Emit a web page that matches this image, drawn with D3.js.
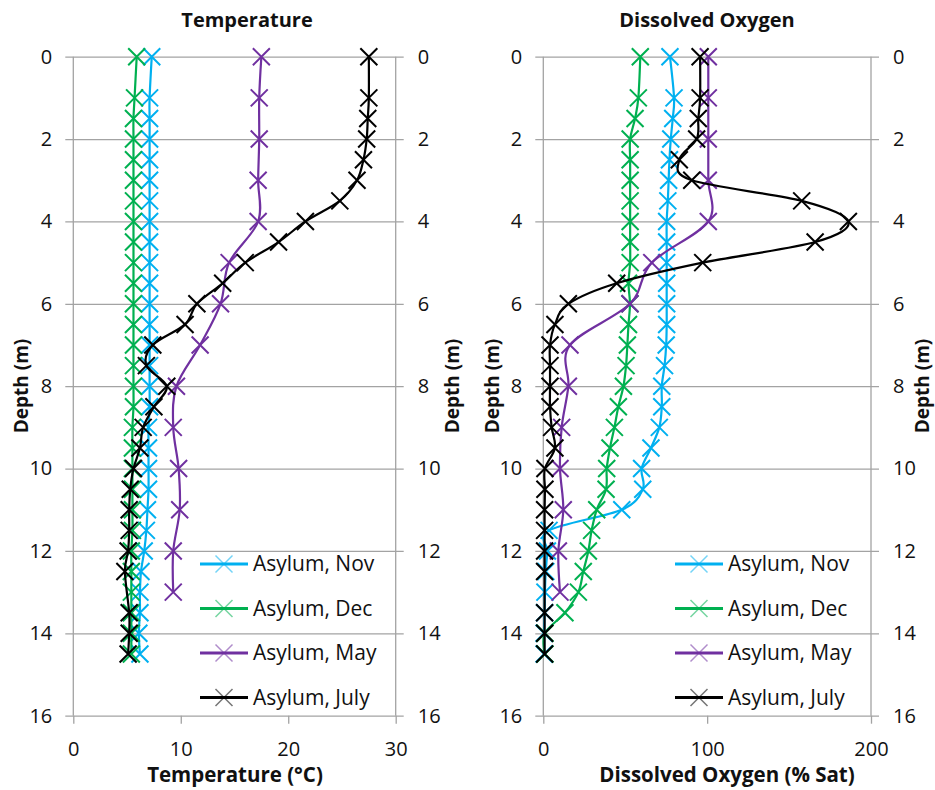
<!DOCTYPE html>
<html>
<head>
<meta charset="utf-8">
<script src="https://cdn.jsdelivr.net/npm/d3@7"></script>
<style>
  html, body { margin: 0; padding: 0; background: #fff; }
  svg { display: block; font-family: "Open Sans", "Noto Sans", sans-serif; }
</style>
</head>
<body>
<svg id="chart" width="935" height="790"></svg>
<script>
// Depth profiles, Asylum site
const seriesNames = ["Asylum, Nov", "Asylum, Dec", "Asylum, May", "Asylum, July"];
const seriesColors = ["#00b0f0", "#00b050", "#7030a0", "#000000"];

const depthsNov  = [0, 1, 1.5, 2, 2.5, 3, 3.5, 4, 4.5, 5, 5.5, 6, 6.5, 7, 7.5, 8, 8.5, 9, 9.5, 10, 10.5, 11, 11.5, 12, 12.5, 13, 13.5, 14, 14.5];
const depthsDec  = [0, 1, 1.5, 2, 2.5, 3, 3.5, 4, 4.5, 5, 5.5, 6, 6.5, 7, 7.5, 8, 8.5, 9, 9.5, 10, 10.5, 11, 11.5, 12, 12.5, 13, 13.5, 14, 14.5];
const depthsMay  = [0, 1, 2, 3, 4, 5, 6, 7, 8, 9, 10, 11, 12, 13];
const depthsJuly = [0, 1, 1.5, 2, 2.5, 3, 3.5, 4, 4.5, 5, 5.5, 6, 6.5, 7, 7.5, 8, 8.5, 9, 9.5, 10, 10.5, 11, 11.5, 12, 12.5, 13.5, 14, 14.5];

// Temperature (°C)
const tempNov  = [7.3, 7.1, 7.1, 7.1, 7.1, 7.1, 7.1, 7.1, 7.1, 7.1, 7.1, 7.1, 7.1, 7.1, 7.1, 7.1, 7.1, 7.0, 7.0, 7.0, 7.0, 6.9, 6.8, 6.6, 6.3, 6.2, 6.2, 6.1, 6.2];
const tempDec  = [5.9, 5.7, 5.6, 5.6, 5.6, 5.6, 5.6, 5.6, 5.6, 5.6, 5.6, 5.6, 5.6, 5.6, 5.6, 5.6, 5.6, 5.5, 5.5, 5.5, 5.5, 5.5, 5.5, 5.4, 5.4, 5.4, 5.4, 5.4, 5.4];
const tempMay  = [17.5, 17.3, 17.3, 17.2, 17.2, 14.5, 13.7, 11.8, 9.6, 9.3, 9.8, 9.9, 9.3, 9.3];
const tempJuly = [27.5, 27.5, 27.4, 27.3, 27.0, 26.4, 24.8, 21.6, 19.1, 16.0, 13.9, 11.5, 10.4, 7.4, 6.8, 8.7, 7.5, 6.5, 6.2, 5.6, 5.3, 5.2, 5.2, 5.1, 4.8, 5.2, 5.2, 5.1];

// Dissolved oxygen (% saturation)
const doNov  = [77.3, 79.8, 79.0, 77.8, 77.0, 76.5, 76.0, 75.3, 75.3, 75.3, 75.3, 75.3, 75.3, 75.0, 74.0, 72.3, 72.3, 70.8, 65.7, 60.0, 60.7, 47.9, 3.5, 2.5, 1.5, 1.0, 0.8, 0.5, 0.5];
const doDec  = [59.2, 58.0, 56.0, 53.0, 53.0, 53.0, 53.0, 53.0, 53.0, 53.0, 52.0, 52.9, 52.0, 51.3, 50.5, 48.9, 45.8, 43.4, 40.7, 38.7, 38.3, 32.6, 29.5, 27.5, 24.4, 21.4, 13.2, 1.0, 1.0];
const doMay  = [100.7, 100.7, 100.7, 100.7, 100.7, 66.2, 52.9, 16.3, 15.3, 11.2, 10.2, 12.2, 9.2, 10.2];
const doJuly = [95.7, 95.7, 94.6, 93.6, 83.0, 90.6, 157.7, 186.2, 165.9, 97.3, 44.8, 15.3, 7.1, 4.1, 4.1, 4.1, 4.1, 5.1, 7.1, 1.0, 1.0, 0.8, 0.8, 0.8, 0.8, 0.8, 0.8, 0.8];

const depthTicks = [0, 2, 4, 6, 8, 10, 12, 14, 16];
const tempTicks = [0, 10, 20, 30];
const doTicks = [0, 100, 200];

const depthSets = [depthsNov, depthsDec, depthsMay, depthsJuly];

function buildSeries(valueSets) {
  return valueSets.map((vals, i) => ({
    name: seriesNames[i],
    color: seriesColors[i],
    points: vals.map((v, j) => ({ v: v, d: depthSets[i][j] }))
  }));
}

const panels = [
  {
    title: "Temperature", titleX: 247,
    xLabel: "Temperature (\u00B0C)", xLabelX: 235,
    domain: [0, 30], ticks: tempTicks, range: [73.3, 395.7],
    depthLabelX: [21, 452], legendX: 200,
    series: buildSeries([tempNov, tempDec, tempMay, tempJuly])
  },
  {
    title: "Dissolved Oxygen", titleX: 707,
    xLabel: "Dissolved Oxygen (% Sat)", xLabelX: 727,
    domain: [0, 200], ticks: doTicks, range: [543.3, 871],
    depthLabelX: [492, 922], legendX: 675,
    series: buildSeries([doNov, doDec, doMay, doJuly])
  }
];

const svg = d3.select("#chart");
const y = d3.scaleLinear().domain([0, 16]).range([56.7, 715.7]);
const gridColor = "#a3a3a3";
const textColor = "#111";
const xMark = "M-8.5,-8.5L8.5,8.5M-8.5,8.5L8.5,-8.5";

panels.forEach(p => {
  const x = d3.scaleLinear().domain(p.domain).range(p.range);
  const [x0, x1] = p.range;
  const w = x1 - x0;
  const g = svg.append("g");

  // horizontal gridlines with left tick labels
  const yLeft = g.append("g")
    .attr("transform", `translate(${x0 - 8},0)`)
    .call(d3.axisLeft(y).tickValues(depthTicks).tickSizeInner(-(w + 16)).tickSizeOuter(0).tickPadding(13));
  yLeft.select(".domain").remove();
  yLeft.selectAll(".tick line").attr("stroke", gridColor).attr("stroke-width", 1.3);
  yLeft.selectAll(".tick text").attr("font-size", 20).attr("fill", textColor)
    .attr("font-family", "'Open Sans', sans-serif");

  // mirrored labels on the right side
  const yRight = g.append("g")
    .attr("transform", `translate(${x1 + 8},0)`)
    .call(d3.axisRight(y).tickValues(depthTicks).tickSize(0).tickPadding(14));
  yRight.select(".domain").remove();
  yRight.selectAll(".tick text").attr("font-size", 20).attr("fill", textColor)
    .attr("font-family", "'Open Sans', sans-serif");

  // plot-area side borders
  g.selectAll("line.edge").data(p.domain).join("line")
    .attr("class", "edge")
    .attr("x1", d => x(d)).attr("x2", d => x(d))
    .attr("y1", y(0)).attr("y2", y(16))
    .attr("stroke", gridColor).attr("stroke-width", 1.3);

  // bottom axis
  const xAxis = g.append("g")
    .attr("transform", `translate(0,${y(16)})`)
    .call(d3.axisBottom(x).tickValues(p.ticks).tickSize(8).tickPadding(18));
  xAxis.select(".domain").remove();
  xAxis.selectAll(".tick line").attr("stroke", gridColor).attr("stroke-width", 1.3);
  xAxis.selectAll(".tick text").attr("font-size", 20).attr("fill", textColor)
    .attr("font-family", "'Open Sans', sans-serif");

  // titles
  g.append("text").attr("x", p.titleX).attr("y", 27)
    .attr("text-anchor", "middle").attr("font-size", 20).attr("font-weight", "bold")
    .attr("fill", textColor).text(p.title);
  g.append("text").attr("x", p.xLabelX).attr("y", 782)
    .attr("text-anchor", "middle").attr("font-size", 20.5).attr("font-weight", "bold")
    .attr("fill", textColor).text(p.xLabel);
  p.depthLabelX.forEach(cx => {
    g.append("text")
      .attr("transform", `translate(${cx},386) rotate(-90)`)
      .attr("text-anchor", "middle").attr("dy", "0.35em")
      .attr("font-size", 19).attr("font-weight", "bold")
      .attr("fill", textColor).text("Depth (m)");
  });

  // profiles
  const line = d3.line().x(d => x(d.v)).y(d => y(d.d)).curve(d3.curveCardinal.tension(0));
  p.series.forEach(s => {
    const sg = g.append("g");
    sg.append("path").datum(s.points)
      .attr("d", line).attr("fill", "none")
      .attr("stroke", s.color).attr("stroke-width", 2.2);
    sg.selectAll("path.mk").data(s.points).join("path")
      .attr("class", "mk")
      .attr("d", xMark)
      .attr("transform", d => `translate(${x(d.v)},${y(d.d)})`)
      .attr("fill", "none").attr("stroke", s.color).attr("stroke-width", 2);
  });

  // legend
  const lg = g.append("g");
  p.series.forEach((s, i) => {
    const ly = 564 + i * 44.5;
    lg.append("line").attr("x1", p.legendX).attr("x2", p.legendX + 48)
      .attr("y1", ly).attr("y2", ly).attr("stroke", s.color).attr("stroke-width", 3);
    lg.append("path").attr("d", xMark)
      .attr("transform", `translate(${p.legendX + 24},${ly})`)
      .attr("fill", "none").attr("stroke", s.color).attr("stroke-width", 1.5).attr("opacity", 0.55);
    lg.append("text").attr("x", p.legendX + 53).attr("y", ly).attr("dy", "0.35em")
      .attr("font-size", 21).attr("fill", textColor).text(s.name);
  });
});
</script>
</body>
</html>
